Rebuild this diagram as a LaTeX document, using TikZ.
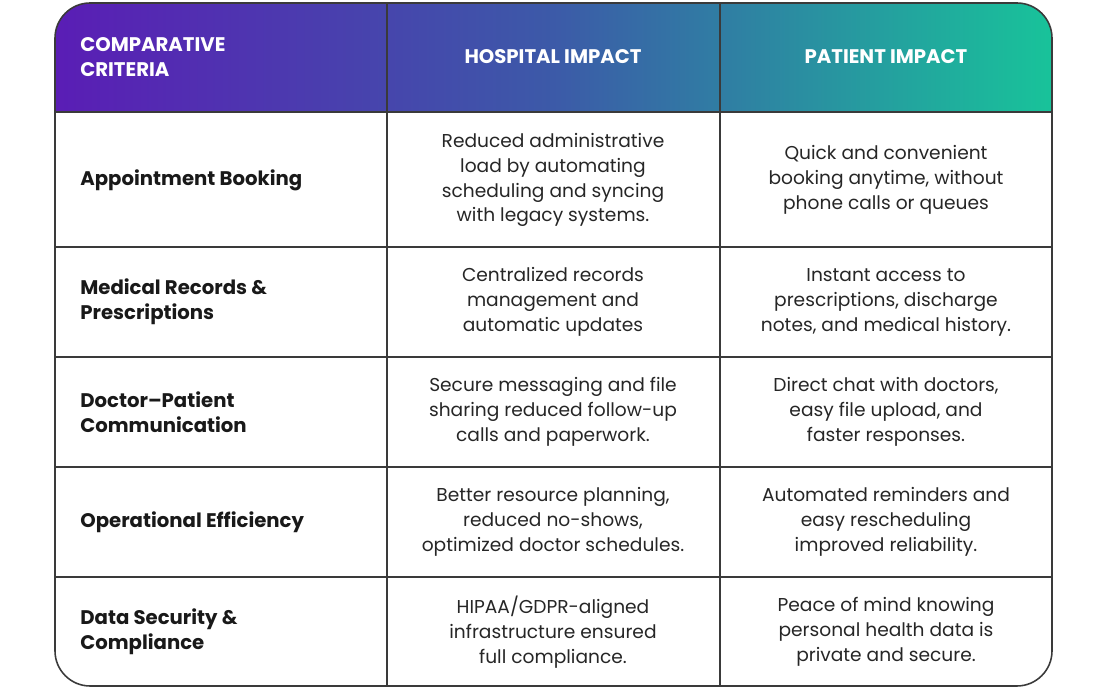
\documentclass[tikz,border=0pt]{standalone}
\usepackage{fontspec}
\setmainfont{Poppins}
\usetikzlibrary{positioning}
\definecolor{hpurple}{HTML}{5A1DB5}
\definecolor{hblue}{HTML}{3C5AA8}
\definecolor{hteal}{HTML}{18C39A}
\definecolor{grid}{HTML}{3A3A3A}
\tikzset{
  cell/.style={align=center, font=\fontsize{10.6}{14.2}\selectfont, text=black!85, inner sep=0pt},
  crit/.style={align=left, anchor=west, font=\fontsize{11.2}{14.2}\selectfont\bfseries, text=black!90, inner sep=0pt},
  head/.style={font=\fontsize{11.2}{14.2}\selectfont\bfseries, text=white, inner sep=0pt}
}
\begin{document}
\begin{tikzpicture}[x=0.02cm,y=-0.02cm]
\useasboundingbox (0,0) rectangle (1110,695);
% header band
\begin{scope}
\clip[rounded corners=20] (55,3) rectangle (1052,686);
\fill[left color=hpurple, right color=hteal, middle color=hblue] (55,3) rectangle (1052,112);
\end{scope}
% grid
\draw[grid, line width=0.9pt, rounded corners=20] (55,3) rectangle (1052,686);
\foreach \y in {112,247,357,467,577} \draw[grid, line width=0.8pt] (55,\y) -- (1052,\y);
\foreach \x in {387,720} \draw[grid, line width=0.8pt] (\x,3) -- (\x,686);
% header texts
\node[head, align=left, anchor=west] (hcrit) at (80,57) {COMPARATIVE\\CRITERIA};
\node[head] (hhosp) at (553,57) {HOSPITAL IMPACT};
\node[head] (hpat) at (886,57) {PATIENT IMPACT};
% rows
\node[crit] (c1) at (80,180) {Appointment Booking};
\node[cell] (h1) at (553,180) {Reduced administrative\\load by automating\\scheduling and syncing\\with legacy systems.};
\node[cell] (p1) at (886,180) {Quick and convenient\\booking anytime, without\\phone calls or queues};
\node[crit] (c2) at (80,302) {Medical Records \&\\Prescriptions};
\node[cell] (h2) at (553,302) {Centralized records\\management and\\automatic updates};
\node[cell] (p2) at (886,302) {Instant access to\\prescriptions, discharge\\notes, and medical history.};
\node[crit] (c3) at (80,412) {Doctor–Patient\\Communication};
\node[cell] (h3) at (553,412) {Secure messaging and file\\sharing reduced follow-up\\calls and paperwork.};
\node[cell] (p3) at (886,412) {Direct chat with doctors,\\easy file upload, and\\faster responses.};
\node[crit] (c4) at (80,522) {Operational Efficiency};
\node[cell] (h4) at (553,522) {Better resource planning,\\reduced no-shows,\\optimized doctor schedules.};
\node[cell] (p4) at (886,522) {Automated reminders and\\easy rescheduling\\improved reliability.};
\node[crit] (c5) at (80,632) {Data Security \&\\Compliance};
\node[cell] (h5) at (553,632) {HIPAA/GDPR-aligned\\infrastructure ensured\\full compliance.};
\node[cell] (p5) at (886,632) {Peace of mind knowing\\personal health data is\\private and secure.};
\end{tikzpicture}
\end{document}
